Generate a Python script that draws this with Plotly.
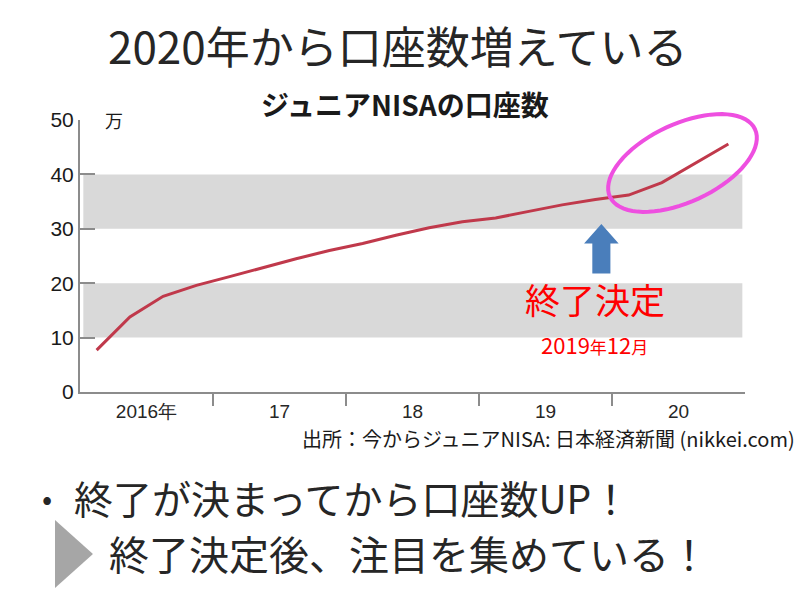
import math
import plotly.graph_objects as go

# ---- data ----
quarters = ["2016Q1", "2016Q2", "2016Q3", "2016Q4",
            "2017Q1", "2017Q2", "2017Q3", "2017Q4",
            "2018Q1", "2018Q2", "2018Q3", "2018Q4",
            "2019Q1", "2019Q2", "2019Q3", "2019Q4",
            "2020Q1", "2020Q2", "2020Q3", "2020Q4"]
accounts = [7.7, 13.8, 17.6, 19.6,
            21.2, 22.9, 24.5, 26.0,
            27.3, 28.8, 30.2, 31.3,
            32.0, 33.2, 34.4, 35.4,
            36.2, 38.5, 42.0, 45.6]
year_ticks = [2016.5, 2017.5, 2018.5, 2019.5, 2020.5]
year_labels = ["2016年", "17", "18", "19", "20"]
year_bounds = [2017, 2018, 2019, 2020]
y_ticks = [0, 10, 20, 30, 40, 50]

xq = [int(q[:4]) + (int(q[-1]) - 0.5) / 4 for q in quarters]

W, H = 800, 600
ML, MR, MT, MB = 80, 55, 120, 208
PW, PH = W - ML - MR, H - MT - MB


def px2paper(px, py):
    return (px - ML) / PW, (H - MB - py) / PH


JP = "Noto Sans CJK JP"
fig = go.Figure()
fig.add_trace(go.Scatter(x=xq, y=accounts, mode="lines",
                         line=dict(color="#C0394B", width=3),
                         hoverinfo="skip", showlegend=False))

shapes = []
for y0, y1 in [(10, 20), (30, 40)]:
    shapes.append(dict(type="rect", xref="paper", yref="y", x0=0.005, x1=0.996,
                       y0=y0, y1=y1, fillcolor="#D9D9D9", line=dict(width=0),
                       layer="below"))

# blue arrow pointing at Dec 2019
ax = 2019.92
hw, sw = 0.13, 0.068
path = (f"M {ax-sw},{21.8} L {ax-sw},{27.3} L {ax-hw},{27.3} L {ax},{30.9} "
        f"L {ax+hw},{27.3} L {ax+sw},{27.3} L {ax+sw},{21.8} Z")
shapes.append(dict(type="path", xref="x", yref="y", path=path,
                   fillcolor="#4A7EBB", line=dict(width=0)))

# magenta ellipse
cx, cy, a, b, phi = 682.5, 163, 80, 39, math.radians(-25)
pts = []
for i in range(73):
    t = 2 * math.pi * i / 72
    x = cx + a * math.cos(t) * math.cos(phi) - b * math.sin(t) * math.sin(phi)
    y = cy + a * math.cos(t) * math.sin(phi) + b * math.sin(t) * math.cos(phi)
    pts.append(px2paper(x, y))
epath = "M " + " L ".join(f"{p[0]:.4f},{p[1]:.4f}" for p in pts) + " Z"
shapes.append(dict(type="path", xref="paper", yref="paper", path=epath,
                   line=dict(color="#EE4FE0", width=4)))

# gray triangle bullet
tp = [px2paper(55, 520), px2paper(55, 588), px2paper(93, 554)]
shapes.append(dict(type="path", xref="paper", yref="paper",
                   path="M " + " L ".join(f"{p[0]:.4f},{p[1]:.4f}" for p in tp) + " Z",
                   fillcolor="#A6A6A6", line=dict(width=0)))


def ann(px, py, text, size, color="#262626", xanchor="center", family=JP):
    x, y = px2paper(px, py)
    return dict(x=x, y=y, xref="paper", yref="paper", text=text, showarrow=False,
                xanchor=xanchor, yanchor="middle",
                font=dict(size=size, color=color, family=family))


annotations = [
    ann(397, 45, "2020年から口座数増えている", 44),
    ann(405, 104, "<b>ジュニアNISAの口座数</b>", 28, color="#1A1A1A"),
    ann(103, 120, "万", 18, color="#1A1A1A", xanchor="left"),
    ann(595, 298, "終了決定", 35, color="#FF0000"),
    ann(594, 344, "2019<span style='font-size:17px'>年</span>12<span style='font-size:17px'>月</span>",
        22, color="#FF0000"),
    ann(797, 438, "出所：今からジュニアNISA: 日本経済新聞 (nikkei.com)", 20,
        color="#1A1A1A", xanchor="right"),
    ann(40, 497, "•", 30, xanchor="left"),
    ann(72, 497, "終了が決まってから口座数UP！", 39, xanchor="left"),
    ann(107, 553, "終了決定後、注目を集めている！", 40, xanchor="left"),
]

fig.update_layout(
    width=W, height=H, margin=dict(l=ML, r=MR, t=MT, b=MB),
    paper_bgcolor="white", plot_bgcolor="white",
    shapes=shapes, annotations=annotations, showlegend=False,
    xaxis=dict(range=[2016, 2021], showgrid=False, zeroline=False,
               showline=True, linecolor="#8C8C8C", linewidth=2,
               tickmode="array", tickvals=year_ticks, ticktext=year_labels,
               ticks="", ticklabelstandoff=1,
               tickfont=dict(size=19, color="#262626",
                             family="Liberation Sans Narrow, Liberation Sans"),
               minor=dict(tickmode="array", tickvals=year_bounds, ticks="outside",
                          ticklen=12, tickwidth=2, tickcolor="#8C8C8C", showgrid=False)),
    yaxis=dict(range=[0, 50], showgrid=False, zeroline=False,
               showline=True, linecolor="#8C8C8C", linewidth=2,
               tickmode="array", tickvals=y_ticks, ticks="inside", ticklen=15,
               tickwidth=2, tickcolor="#8C8C8C",
               tickfont=dict(size=21, color="#1A1A1A", family="Liberation Sans")),
)

fig.write_html("out.html")
